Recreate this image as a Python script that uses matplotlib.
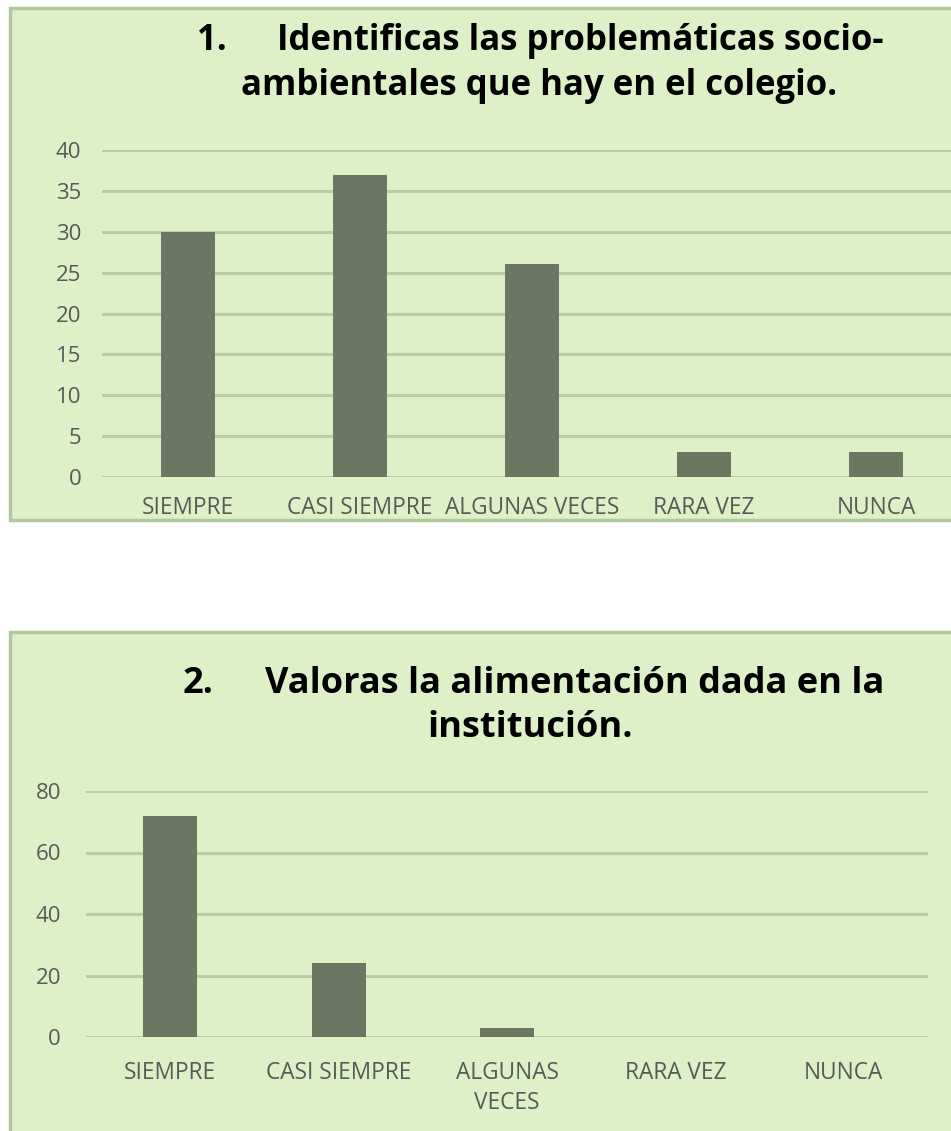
import matplotlib
matplotlib.use("Agg")
import matplotlib.pyplot as plt
from matplotlib.patches import Rectangle

W, H = 951, 1131
categories1 = ["SIEMPRE", "CASI SIEMPRE", "ALGUNAS VECES", "RARA VEZ", "NUNCA"]
values1 = [30, 37, 26, 3, 3]
yticks1 = [0, 5, 10, 15, 20, 25, 30, 35, 40]
title1_num = "1."
title1_l1 = "Identificas las problemáticas socio-"
title1_l2 = "ambientales que hay en el colegio."

categories2 = ["SIEMPRE", "CASI SIEMPRE", "ALGUNAS\nVECES", "RARA VEZ", "NUNCA"]
values2 = [72, 24, 3, 0, 0]
yticks2 = [0, 20, 40, 60, 80]
title2_num = "2."
title2_l1 = "Valoras la alimentación dada en la"
title2_l2 = "institución."

BG = "#DDF0C8"
BORDER = "#B3C79E"
BAR = "#6B7762"
GRID = "#B9CCA5"
TXT = "#595959"
FONT = ["Open Sans", "DejaVu Sans"]
plt.rcParams['font.family'] = FONT

fig = plt.figure(figsize=(W / 100, H / 100), dpi=100)
fig.patch.set_facecolor("white")

def fx(x):
    return x / W

def fy(y):
    return 1 - y / H

def box(x0, y0, x1, y1):
    fig.patches.append(Rectangle((fx(x0), fy(y1)), fx(x1) - fx(x0), fy(y0) - fy(y1),
                                 transform=fig.transFigure, facecolor=BG,
                                 edgecolor=BORDER, linewidth=2.5, zorder=0))

def axes(x0, y0, x1, y1):
    ax = fig.add_axes([fx(x0), fy(y1), fx(x1) - fx(x0), fy(y0) - fy(y1)])
    ax.set_zorder(2)
    ax.set_facecolor("none")
    for s in ax.spines.values():
        s.set_visible(False)
    return ax

# panel boxes
box(10, 8, 960, 520)
box(10, 632, 960, 1140)

def draw(ax, cats, vals, yt, width, pad_y, pad_x):
    xs = list(range(len(cats)))
    ax.set_axisbelow(True)
    ax.yaxis.grid(True, color=GRID, linewidth=2.2)
    ax.bar(xs, vals, width=width, color=BAR, zorder=3)
    ax.set_xlim(-0.5, len(cats) - 0.5)
    ax.set_ylim(yt[0], yt[-1])
    ax.set_yticks(yt)
    ax.set_xticks(xs)
    ax.set_xticklabels(cats, fontsize=16.3, color=TXT, linespacing=1.38)
    ax.tick_params(axis="y", length=0, pad=pad_y, labelsize=16, labelcolor=TXT)
    ax.tick_params(axis="x", length=0, pad=pad_x)

ax1 = axes(102, 150, 962, 477)
draw(ax1, categories1, values1, yticks1, 0.31, 15, 14)

ax2 = axes(86, 791, 928, 1037)
draw(ax2, categories2, values2, yticks2, 0.32, 18, 17)

tkw = dict(fontweight="bold", color="black", va="center")
fig.text(fx(197), fy(41), title1_num, ha="left", fontsize=25, **tkw)
fig.text(fx(277), fy(41), title1_l1, ha="left", fontsize=25, **tkw)
fig.text(fx(539), fy(86), title1_l2, ha="center", fontsize=25, **tkw)

fig.text(fx(183), fy(684), title2_num, ha="left", fontsize=26, **tkw)
fig.text(fx(265), fy(684), title2_l1, ha="left", fontsize=26, **tkw)
fig.text(fx(530), fy(728), title2_l2, ha="center", fontsize=26, **tkw)

fig.savefig("out.png", dpi=100, facecolor="white")
